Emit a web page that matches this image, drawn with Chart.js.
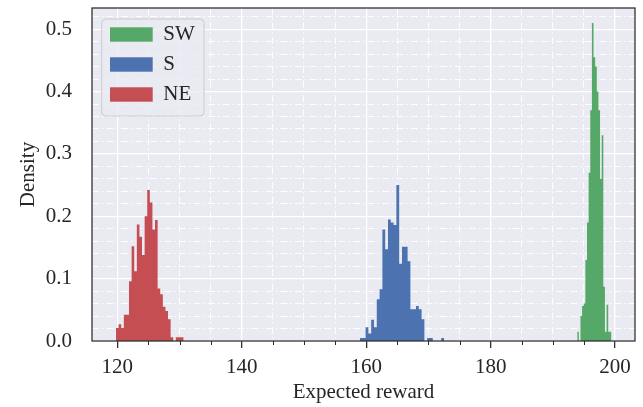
<!DOCTYPE html>
<html>
<head>
<meta charset="utf-8">
<script src="https://cdn.jsdelivr.net/npm/chart.js@4/dist/chart.umd.min.js"></script>
<style>
  html, body { margin: 0; padding: 0; background: #ffffff; }
  canvas { display: block; }
</style>
</head>
<body>
<canvas id="chart" width="643" height="407"></canvas>
<script>
// Series names and colours (legend order)
const seriesLabels = ['SW', 'S', 'NE'];
const seriesColors = ['#55a868', '#4c72b0', '#c44e52'];

// Histograms: first bin edge, bin width, density of each bin
const swStart = 193.91;
const swBinWidth = 0.2624;
const swDensity = [0.015, 0, 0.040, 0.056, 0.060, 0.130, 0.190, 0.270, 0.370, 0.510,
                   0.455, 0.440, 0.400, 0.370, 0.260, 0.330, 0.087, 0.015, 0.058, 0.015, 0.015];

const sStart = 159.0;
const sBinWidth = 0.45;
const sDensity = [0.005, 0.005, 0.022, 0.012, 0.034, 0.022, 0.067, 0.083, 0.179, 0.147,
                  0.195, 0.190, 0.186, 0.250, 0.124, 0.151, 0.151, 0.128, 0.051, 0.051,
                  0.056, 0.051, 0.035, 0, 0.005, 0.005, 0, 0, 0, 0.005];

const neStart = 119.79;
const neBinWidth = 0.418;
const neDensity = [0.021, 0.027, 0.021, 0.042, 0.042, 0.096, 0.152, 0.112, 0.187, 0.167,
                   0.138, 0.200, 0.242, 0.222, 0.179, 0.194, 0.084, 0.075, 0.055, 0.048,
                   0.035, 0.006, 0, 0.006, 0.006, 0.006];

// Axis ticks
const xMajorTicks = [120, 140, 160, 180, 200];
const xMinorStep = 5;
const yMajorTicks = [0.0, 0.1, 0.2, 0.3, 0.4, 0.5];
const yMinorStep = 0.02;

const FONT = "'Liberation Serif', 'Times New Roman', 'DejaVu Serif', serif";
const TEXT = '#262626';
const SPINE = '#2b2b2b';

// Turn bins into a step outline: one point per left edge, closed at the last edge.
function stepOutline(start, width, density) {
  const pts = [{ x: start, y: 0 }];
  density.forEach((d, i) => pts.push({ x: start + i * width, y: d }));
  pts.push({ x: start + density.length * width, y: 0 });
  return pts;
}

const near = (a, b) => Math.abs(a - b) < 1e-6;
const isXMajor = v => xMajorTicks.some(t => near(t, v));
const isYMajor = v => yMajorTicks.some(t => near(t, v));
const onStep = (v, step) => near(v / step, Math.round(v / step));

const histograms = [
  stepOutline(swStart, swBinWidth, swDensity),
  stepOutline(sStart, sBinWidth, sDensity),
  stepOutline(neStart, neBinWidth, neDensity)
];

const datasets = histograms.map((pts, i) => ({
  label: seriesLabels[i],
  data: pts,
  stepped: true,
  fill: 'origin',
  backgroundColor: seriesColors[i],
  borderColor: 'rgba(0,0,0,0)',
  borderWidth: 0,
  pointRadius: 0,
  tension: 0
}));

// Axes background
const panelBackground = {
  id: 'panelBackground',
  beforeDraw(chart) {
    const { ctx, chartArea: a } = chart;
    ctx.save();
    ctx.fillStyle = '#eaeaf2';
    ctx.fillRect(a.left, a.top, a.right - a.left, a.bottom - a.top);
    ctx.restore();
  }
};

// Minor tick marks, axes frame and the legend box
const frameAndLegend = {
  id: 'frameAndLegend',
  afterDraw(chart) {
    const { ctx, chartArea: a } = chart;
    const xs = chart.scales.x;
    ctx.save();

    ctx.strokeStyle = SPINE;
    ctx.lineWidth = 1;
    xs.ticks.forEach(t => {
      if (isXMajor(t.value)) return;
      const px = Math.round(xs.getPixelForValue(t.value)) + 0.5;
      ctx.beginPath();
      ctx.moveTo(px, a.bottom);
      ctx.lineTo(px, a.bottom + 4);
      ctx.stroke();
    });

    ctx.lineWidth = 1.25;
    ctx.strokeRect(a.left, a.top, a.right - a.left, a.bottom - a.top);

    // legend
    const lx = a.left + 9.7, ly = a.top + 11, lw = 102.3, lh = 97, r = 4;
    ctx.beginPath();
    ctx.moveTo(lx + r, ly);
    ctx.lineTo(lx + lw - r, ly);
    ctx.arcTo(lx + lw, ly, lx + lw, ly + r, r);
    ctx.lineTo(lx + lw, ly + lh - r);
    ctx.arcTo(lx + lw, ly + lh, lx + lw - r, ly + lh, r);
    ctx.lineTo(lx + r, ly + lh);
    ctx.arcTo(lx, ly + lh, lx, ly + lh - r, r);
    ctx.lineTo(lx, ly + r);
    ctx.arcTo(lx, ly, lx + r, ly, r);
    ctx.closePath();
    ctx.fillStyle = 'rgba(234,234,242,0.8)';
    ctx.fill();
    ctx.strokeStyle = '#cccccc';
    ctx.lineWidth = 1;
    ctx.stroke();

    ctx.font = `21px ${FONT}`;
    ctx.textBaseline = 'middle';
    ctx.textAlign = 'left';
    chart.data.datasets.forEach((ds, i) => {
      const rowY = a.top + 19.3 + 30 * i;
      ctx.fillStyle = ds.backgroundColor;
      ctx.fillRect(a.left + 18, rowY, 42.7, 14.4);
      ctx.fillStyle = TEXT;
      ctx.fillText(ds.label, a.left + 71.3, rowY + 7.2);
    });
    ctx.restore();
  }
};

const minorDash = [7, 3, 1.5, 3];

new Chart(document.getElementById('chart'), {
  type: 'line',
  data: { datasets },
  options: {
    responsive: false,
    animation: false,
    events: [],
    layout: { padding: { top: 8, right: 8, left: 0, bottom: 0 } },
    plugins: { legend: { display: false }, tooltip: { enabled: false } },
    scales: {
      x: {
        type: 'linear',
        min: 115.93,
        max: 203.2,
        afterFit(s) {
          s.height = 66;
          s.paddingLeft = 0; s.paddingRight = 0; s.paddingTop = 0; s.paddingBottom = 0;
        },
        afterBuildTicks(s) { s.ticks = s.ticks.filter(t => onStep(t.value, xMinorStep)); },
        ticks: {
          stepSize: xMinorStep,
          includeBounds: false,
          autoSkip: false,
          maxRotation: 0,
          padding: 6.4,
          color: TEXT,
          font: { family: FONT, size: 21 },
          callback: v => (isXMajor(v) ? String(Math.round(v)) : '')
        },
        grid: {
          color: '#ffffff',
          lineWidth: c => (c.tick && isXMajor(c.tick.value) ? 1.3 : 0.9),
          drawTicks: true,
          tickLength: 7,
          tickWidth: 1.25,
          tickColor: c => (c.tick && isXMajor(c.tick.value) ? SPINE : 'rgba(0,0,0,0)')
        },
        border: {
          display: false,
          dash: c => (c.tick && !isXMajor(c.tick.value) ? minorDash : [])
        },
        title: {
          display: true,
          text: 'Expected reward',
          color: TEXT,
          font: { family: FONT, size: 21 },
          padding: { top: 0, bottom: 1.5 }
        }
      },
      y: {
        type: 'linear',
        min: 0,
        max: 0.534,
        afterFit(s) {
          s.width = 92;
          s.paddingLeft = 0; s.paddingRight = 0; s.paddingTop = 0; s.paddingBottom = 0;
        },
        afterBuildTicks(s) { s.ticks = s.ticks.filter(t => onStep(t.value, yMinorStep)); },
        ticks: {
          stepSize: yMinorStep,
          includeBounds: false,
          autoSkip: false,
          padding: 20,
          color: TEXT,
          font: { family: FONT, size: 21 },
          callback: v => (isYMajor(v) ? v.toFixed(1) : '')
        },
        grid: {
          color: '#ffffff',
          lineWidth: c => (c.tick && isYMajor(c.tick.value) ? 1.3 : 0.9),
          drawTicks: false
        },
        border: {
          display: false,
          dash: c => (c.tick && !isYMajor(c.tick.value) ? minorDash : [])
        },
        title: {
          display: true,
          text: 'Density',
          color: TEXT,
          font: { family: FONT, size: 21 },
          padding: { top: 15.4, bottom: 0 }
        }
      }
    }
  },
  plugins: [panelBackground, frameAndLegend]
});
</script>
</body>
</html>
